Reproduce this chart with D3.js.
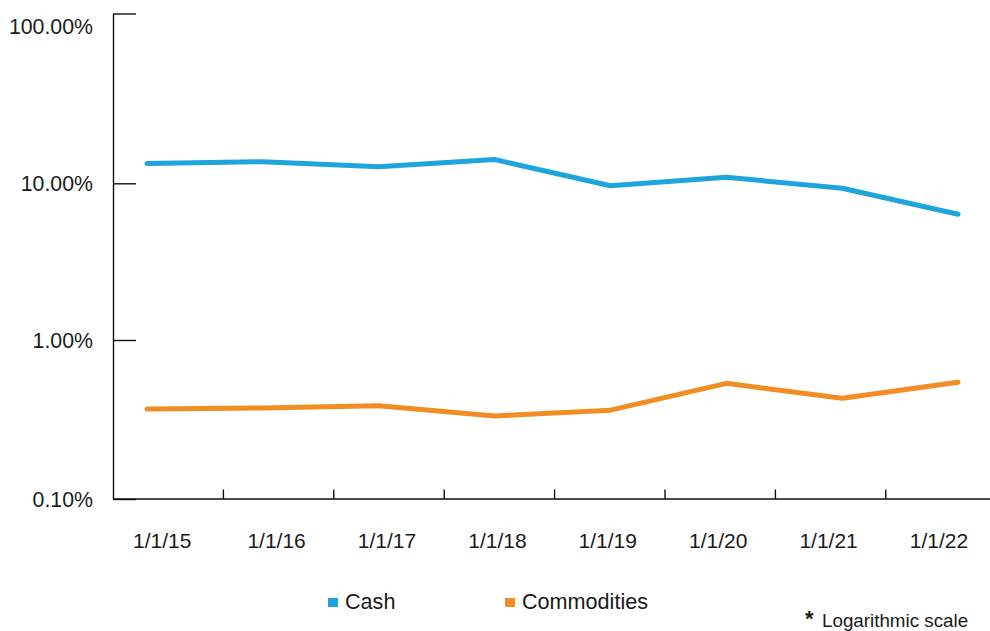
<!DOCTYPE html>
<html>
<head>
<meta charset="utf-8">
<script src="https://cdn.jsdelivr.net/npm/d3@7"></script>
<style>
  html, body { margin: 0; padding: 0; background: #fff; }
  svg { display: block; }
  text { font-family: "Liberation Sans", Arial, Helvetica, sans-serif; fill: #1a1a1a; }
</style>
</head>
<body>
<svg id="chart" width="990" height="631"></svg>
<script>
// Year-start dates on the horizontal axis
const categories = ["1/1/15", "1/1/16", "1/1/17", "1/1/18", "1/1/19", "1/1/20", "1/1/21", "1/1/22"];

// Allocation shares, in percent
const cashValues = [13.1, 13.4, 12.5, 13.8, 9.65, 10.85, 9.3, 6.35];
const commodityValues = [0.368, 0.374, 0.386, 0.333, 0.362, 0.534, 0.43, 0.542];

// Log-axis ticks, in percent
const yTicks = [0.1, 1, 10, 100];

const seriesNames = ["Cash", "Commodities"];
const seriesColors = ["#1fa5dd", "#f28d23"];

const svg = d3.select("#chart");

const plotLeft = 113, plotBottom = 499, plotTop = 13.5, plotRight = 990;

// Logarithmic y scale (one segment per decade)
const y = d3.scaleLog()
  .domain(yTicks)
  .range([plotBottom, 340, 183.3, plotTop]);

// Category bands for tick marks and labels
const xBand = d3.scaleBand()
  .domain(categories)
  .range([plotLeft, plotLeft + 8 * 110.4])
  .paddingInner(0).paddingOuter(0);

// Positions of the data points
const xPoint = d3.scalePoint()
  .domain(categories)
  .range([147, 958]);

const axisColor = "#111";

// Y axis: line, inward ticks, labels
const yAxis = d3.axisLeft(y)
  .tickValues(yTicks)
  .tickFormat(d => d3.format(".2f")(d) + "%")
  .tickSizeInner(-23)
  .tickSizeOuter(0)
  .tickPadding(20);

const gy = svg.append("g")
  .attr("transform", `translate(${plotLeft},0)`)
  .call(yAxis);
gy.select(".domain").attr("stroke", axisColor).attr("stroke-width", 1.4);
gy.selectAll(".tick line").attr("stroke", axisColor).attr("stroke-width", 1.4);
gy.selectAll(".tick text")
  .attr("font-size", 21.3)
  .attr("font-family", "'Liberation Sans', Arial, Helvetica, sans-serif")
  .attr("fill", "#1a1a1a")
  .attr("dy", d => d === 100 ? "0.93em" : "0.35em");

// X axis line
svg.append("line")
  .attr("x1", plotLeft).attr("x2", plotRight)
  .attr("y1", plotBottom).attr("y2", plotBottom)
  .attr("stroke", axisColor).attr("stroke-width", 1.6);

// X tick marks at band boundaries
svg.append("g").selectAll("line")
  .data(categories.slice(1))
  .join("line")
  .attr("x1", d => xBand(d)).attr("x2", d => xBand(d))
  .attr("y1", plotBottom).attr("y2", plotBottom - 9.5)
  .attr("stroke", axisColor).attr("stroke-width", 1.4);

// X labels centred in each band
svg.append("g").selectAll("text")
  .data(categories)
  .join("text")
  .attr("x", (d, i) => xBand(d) + xBand.bandwidth() / 2 - (i === 0 ? 6 : 2))
  .attr("y", 547.5)
  .attr("text-anchor", "middle")
  .attr("font-size", 21)
  .text(d => d);

// Series lines
const line = d3.line()
  .x((d, i) => xPoint(categories[i]))
  .y(d => y(d));

[cashValues, commodityValues].forEach((vals, i) => {
  svg.append("path")
    .datum(vals)
    .attr("d", line)
    .attr("fill", "none")
    .attr("stroke", seriesColors[i])
    .attr("stroke-width", 5)
    .attr("stroke-linecap", "round")
    .attr("stroke-linejoin", "round");
});

// Legend
const legendX = [328, 505];
const legend = svg.append("g").selectAll("g")
  .data(seriesNames)
  .join("g")
  .attr("transform", (d, i) => `translate(${legendX[i]},0)`);
legend.append("rect")
  .attr("x", 0).attr("y", 598)
  .attr("width", 10).attr("height", 9)
  .attr("fill", (d, i) => seriesColors[i]);
legend.append("text")
  .attr("x", 17).attr("y", 608.5)
  .attr("font-size", 21.6)
  .text(d => d);

// Footnote
svg.append("text")
  .attr("x", 805).attr("y", 626)
  .attr("font-size", 22)
  .attr("font-weight", "bold")
  .text("*");
svg.append("text")
  .attr("x", 822).attr("y", 627)
  .attr("font-size", 18.8)
  .text("Logarithmic scale");
</script>
</body>
</html>
